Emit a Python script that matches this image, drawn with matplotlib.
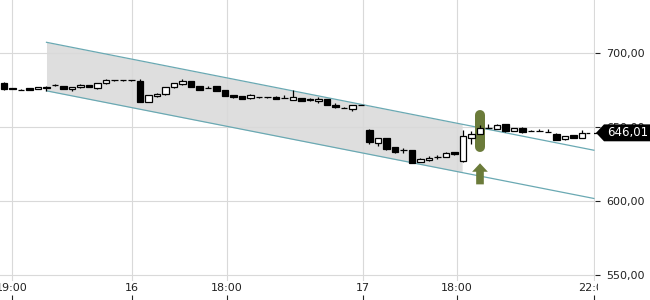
import numpy as np
import matplotlib
matplotlib.use("Agg")
import matplotlib.pyplot as plt
from matplotlib.patches import Polygon, FancyArrow
from matplotlib.transforms import Bbox, TransformedBbox, blended_transform_factory

# candles (one per trading slot)
opens = [679.7, 676.0, 675.2, 676.1, 675.5, 677.0, 678.0, 677.7, 675.3, 676.6,
         678.0, 675.9, 679.3, 681.3, 681.3, 681.3, 680.9, 666.9, 670.5, 671.9,
         676.6, 678.6, 680.7, 677.3, 676.3, 677.5, 674.8, 671.4, 670.7, 669.2,
         670.0, 670.0, 670.3, 669.7, 668.0, 669.6, 668.6, 667.2, 668.7, 664.9,
         663.0, 661.8, 664.9, 648.2, 639.2, 642.4, 636.5, 634.4, 634.3, 626.3,
         628.0, 629.7, 629.7, 633.1, 626.8, 642.8, 645.5, 649.6, 648.9, 651.8,
         647.3, 649.6, 647.4, 647.4, 646.7, 645.5, 641.7, 644.4, 642.8]
highs = [680.5, 676.3, 675.4, 676.3, 677.0, 677.8, 679.0, 677.9, 677.2, 678.6,
         678.3, 679.5, 682.2, 681.4, 681.4, 681.4, 682.0, 671.6, 673.0, 676.8,
         679.9, 682.0, 680.9, 677.5, 677.5, 677.7, 675.0, 671.6, 670.9, 672.2,
         670.2, 670.1, 670.5, 671.6, 674.8, 669.8, 669.3, 670.0, 668.9, 666.0,
         663.3, 665.0, 665.0, 648.9, 642.8, 642.6, 636.7, 635.8, 634.5, 628.8,
         630.5, 631.0, 632.9, 633.3, 648.2, 647.3, 651.6, 651.8, 651.8, 652.0,
         649.5, 649.8, 647.6, 648.6, 648.9, 645.7, 643.9, 644.6, 647.8]
lows = [675.0, 675.3, 674.6, 674.6, 675.3, 674.3, 677.8, 675.3, 674.0, 676.4,
        676.6, 675.7, 679.1, 681.2, 681.2, 681.2, 666.7, 666.5, 670.3, 671.7,
        676.4, 678.4, 676.8, 674.6, 676.0, 674.1, 670.8, 669.2, 668.5, 669.0,
        669.7, 669.8, 668.5, 669.4, 667.8, 667.4, 667.5, 666.0, 664.5, 662.5,
        662.6, 660.8, 664.7, 638.8, 637.1, 634.7, 632.4, 632.4, 625.7, 626.1,
        627.0, 628.3, 629.5, 630.9, 626.6, 638.8, 645.3, 649.4, 648.7, 646.9,
        647.1, 645.9, 647.1, 647.1, 646.4, 641.3, 641.5, 642.4, 642.6]
closes = [675.5, 675.5, 675.0, 674.8, 676.8, 676.0, 678.2, 675.5, 677.0, 678.4,
          676.8, 679.3, 681.4, 681.3, 681.3, 681.3, 666.9, 671.4, 672.1, 676.6,
          679.7, 680.9, 677.0, 674.8, 676.0, 674.3, 671.0, 669.9, 668.7, 671.4,
          669.9, 669.9, 668.7, 669.6, 669.9, 667.6, 668.4, 668.9, 664.7, 663.1,
          662.9, 664.7, 664.8, 639.9, 642.6, 635.4, 633.1, 634.3, 625.9, 628.6,
          629.3, 629.8, 632.7, 632.0, 643.7, 645.1, 649.6, 649.5, 651.6, 647.1,
          649.3, 646.6, 647.3, 647.3, 646.6, 641.5, 643.7, 642.6, 646.01]

tick_pos = [0.94, 15.06, 26.2, 42.2, 53.3, 69.4]
tick_labels = ["19:00", "16", "18:00", "17", "18:00", "22:00"]
y_ticks = [550, 600, 650, 700]

# trend channel
chan_x = [5, 69.4]
chan_upper = [707.0, 634.3]
chan_lower = [674.3, 601.8]
shade_end = 53.9

# signal marker
signal_idx = 56
signal_range = [632.9, 661.3]
arrow_range = [611.3, 625.5]

last_price = closes[-1]

fig = plt.figure(figsize=(6.5, 3), dpi=100)
ax = fig.add_axes([0, 19 / 300, 595 / 650, 281 / 300])
ax.set_xlim(-0.47, 69.53)
ax.set_ylim(546.2, 735.5)

for s in ax.spines.values():
    s.set_visible(False)

ax.grid(True, color="#d9d9d9", lw=0.8)

# channel
xs = np.array([chan_x[0], shade_end])
ax.fill_between(xs, np.interp(xs, chan_x, chan_lower), np.interp(xs, chan_x, chan_upper),
                color="#dedede", lw=0, zorder=1)
ax.plot(chan_x, chan_upper, color="#6aa9b3", lw=0.9, zorder=2)
ax.plot(chan_x, chan_lower, color="#6aa9b3", lw=0.9, zorder=2)

# signal
ax.plot([signal_idx, signal_idx], [signal_range[0] + 3.4, signal_range[1] - 3.4],
        color="#6b7b3a", lw=7.2, solid_capstyle="round", zorder=2.5)
ax.add_patch(FancyArrow(signal_idx, arrow_range[0], 0, arrow_range[1] - arrow_range[0],
                        width=0.9, head_width=1.85, head_length=5.7,
                        length_includes_head=True, color="#6b7b3a", lw=0, zorder=2.5))

# candles
idx = np.arange(len(opens))
o = np.array(opens)
c = np.array(closes)
ax.vlines(idx, lows, highs, color="black", lw=0.9, zorder=3)
up = c >= o
bottoms = np.minimum(o, c)
heights = np.maximum(np.abs(c - o), 0.05)
ax.bar(idx[up], heights[up], bottom=bottoms[up], width=0.72, color="white",
       edgecolor="black", lw=0.9, zorder=4)
ax.bar(idx[~up], heights[~up], bottom=bottoms[~up], width=0.72, color="black",
       edgecolor="black", lw=0.9, zorder=4)

# last price dash + tag
ax.plot([68.5, 70.3], [last_price, last_price], color="black", lw=0.9,
        ls=(0, (3, 3)), clip_on=False, zorder=4)
tr = blended_transform_factory(fig.transFigure, ax.transData)
h = 5.7
tag = Polygon([(596 / 650, last_price), (604 / 650, last_price + h), (1.0, last_price + h),
               (1.0, last_price - h), (604 / 650, last_price - h)],
              closed=True, transform=tr, facecolor="black", edgecolor="none", zorder=10)
fig.add_artist(tag)
fig.text(607 / 650, last_price, "646,01", transform=tr, color="white", fontsize=8.5,
         va="center", ha="left", zorder=11)

# axes
ax.set_xticks(tick_pos)
ax.set_xticklabels(tick_labels)
ax.spines["bottom"].set_position(("outward", 16))
ax.tick_params(axis="x", direction="in", length=5.5, width=0.8, pad=-14.4,
               labelsize=8, colors="#222222")
ax.yaxis.tick_right()
ax.set_yticks(y_ticks)
ax.set_yticklabels([f"{v:.2f}".replace(".", ",") for v in y_ticks])
ax.tick_params(axis="y", direction="out", length=3.6, width=0.8, pad=4.7,
               labelsize=8, colors="#222222")

clip = TransformedBbox(Bbox([[0, 0], [598 / 650, 1]]), fig.transFigure)
for t in ax.xaxis.get_major_ticks():
    t.label1.set_clip_box(clip)
    t.label1.set_clip_on(True)

fig.savefig("out.png", dpi=100)
